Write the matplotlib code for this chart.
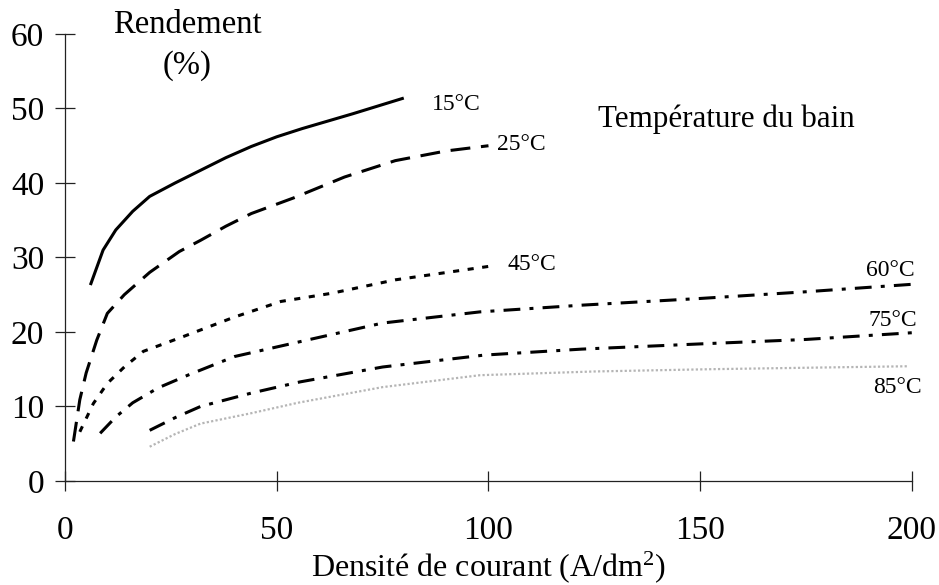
import numpy as np
import matplotlib
matplotlib.use("Agg")
import matplotlib.pyplot as plt

# Curves (current density in A/dm2, efficiency in %)
x_15 = [6, 9, 12, 16, 20, 26, 32, 38, 44, 50, 56, 68, 80]
y_15 = [26.3, 31.0, 33.7, 36.2, 38.2, 40.0, 41.7, 43.4, 44.9, 46.2, 47.3, 49.3, 51.4]

x_25 = [2, 3.5, 5, 7.5, 10, 14, 20, 27, 32, 38, 44, 54, 66, 78, 90, 100]
y_25 = [5.3, 10.9, 14.5, 18.9, 22.5, 25.0, 28.0, 30.8, 32.3, 34.2, 35.9, 38.0, 40.8, 43.0, 44.3, 45.0]

x_45 = [3.5, 6.7, 10, 14, 18.5, 28, 40, 51, 63, 78, 100]
y_45 = [6.6, 10.4, 13.1, 15.3, 17.4, 19.4, 22.0, 24.1, 25.2, 27.0, 28.8]

x_60 = [8.3, 12, 16, 22, 29, 40, 55.5, 75, 98, 122, 150, 175, 200]
y_60 = [6.4, 8.6, 10.5, 12.5, 14.2, 16.7, 18.7, 21.2, 22.7, 23.6, 24.5, 25.4, 26.4]

x_75 = [20, 26, 32, 44, 55.5, 75, 99, 122, 150, 175, 200]
y_75 = [6.8, 8.5, 10.0, 11.8, 13.3, 15.3, 16.9, 17.7, 18.4, 19.0, 19.9]

x_85 = [20, 26, 32, 44, 55, 75, 98, 125, 152, 175, 199]
y_85 = [4.6, 6.3, 7.7, 9.1, 10.5, 12.6, 14.2, 14.7, 15.0, 15.2, 15.4]

x_ticks = [0, 50, 100, 150, 200]
y_ticks = [0, 10, 20, 30, 40, 50, 60]

plt.rcParams['font.family'] = ["Liberation Serif", "DejaVu Serif"]
plt.rcParams['mathtext.fontset'] = "custom"
plt.rcParams['mathtext.rm'] = "Liberation Serif"
plt.rcParams['mathtext.it'] = "Liberation Serif:italic"

fig = plt.figure(figsize=(9.39, 5.85), dpi=100)
ax = fig.add_axes([0.0692, 0.1778, 0.902, 0.7641])

ax.plot(x_15, y_15, color="black", lw=2.2, solid_capstyle="butt")
ax.plot(x_25, y_25, color="black", lw=2.2, ls=(0, (6.5, 3.5)), dash_capstyle="butt")
ax.plot(x_45, y_45, color="black", lw=2.2, ls=(0, (2.0, 2.8)), dash_capstyle="butt")
ax.plot(x_60, y_60, color="black", lw=2.2, ls=(0, (5.5, 3.0, 1.3, 3.0)), dash_capstyle="butt")
ax.plot(x_75, y_75, color="black", lw=2.2, ls=(0, (5.5, 3.0, 1.3, 3.0)), dash_capstyle="butt")
ax.plot(x_85, y_85, color="#b5b5b5", lw=1.6, ls=(0, (1.0, 1.0)))

ax.set_xlim(0, 200)
ax.set_ylim(0, 60)
ax.set_xticks(x_ticks)
ax.set_yticks(y_ticks)
for s in ["top", "right"]:
    ax.spines[s].set_visible(False)
for s in ["left", "bottom"]:
    ax.spines[s].set_linewidth(0.9)
    ax.spines[s].set_color("#222222")
ax.tick_params(axis="both", direction="inout", length=15, width=0.9, color="#222222", labelsize=24)
ax.tick_params(axis="x", pad=17)
ax.tick_params(axis="y", pad=7.5)

ax.set_xlabel("Densité de courant (A/dm$^{\\mathrm{2}}$)", fontsize=23, labelpad=3)

ax.text(28.8, 61.2, "Rendement", fontsize=23.5, ha="center", va="center", clip_on=False)
ax.text(28.8, 55.8, "(%)", fontsize=23.5, ha="center", va="center")
ax.text(125.9, 48.5, "Température du bain", fontsize=22.3, ha="left", va="center")

fs = 17
ax.text(86.6, 50.5, "15°C", fontsize=fs, ha="left", va="center")
ax.text(102.0, 45.1, "25°C", fontsize=fs, ha="left", va="center")
ax.text(104.6, 29.0, "45°C", fontsize=fs, ha="left", va="center")
ax.text(200.7, 28.3, "60°C", fontsize=fs, ha="right", va="center")
ax.text(201.2, 21.6, "75°C", fontsize=fs, ha="right", va="center")
ax.text(202.4, 12.6, "85°C", fontsize=fs, ha="right", va="center")

plt.savefig("out.png", dpi=100)
plt.close()
